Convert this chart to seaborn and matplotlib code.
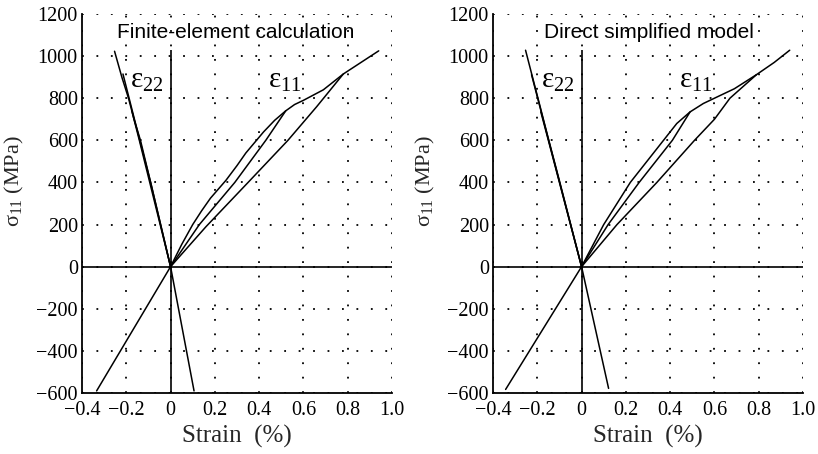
import matplotlib
matplotlib.use("Agg")
import matplotlib.pyplot as plt
import seaborn as sns

# ---------------- data ----------------
x_ticks = [-0.4, -0.2, 0.0, 0.2, 0.4, 0.6, 0.8, 1.0]
x_tick_labels = ["\u22120.4", "\u22120.2", "0", "0.2", "0.4", "0.6", "0.8", "1.0"]
y_ticks = [-600, -400, -200, 0, 200, 400, 600, 800, 1000, 1200]
y_tick_labels = ["\u2212600", "\u2212400", "\u2212200", "0", "200", "400", "600", "800", "1000", "1200"]

panel_titles = ["Finite-element calculation", "Direct simplified model"]

# Finite-element calculation (left)
fe_e11_load_strain = [0, 0.05, 0.10, 0.14, 0.18, 0.25, 0.30, 0.34, 0.38, 0.42, 0.47, 0.52, 0.56, 0.60, 0.69, 0.78, 0.86, 0.94]
fe_e11_load_stress = [0, 105, 200, 265, 325, 410, 480, 540, 590, 640, 695, 740, 770, 790, 840, 915, 970, 1025]
fe_e11_unload1_strain = [0.52, 0.43, 0.29, 0.13, 0]
fe_e11_unload1_stress = [740, 600, 400, 200, 0]
fe_e11_unload2_strain = [0.78, 0.66, 0.53, 0.35, 0.16, 0]
fe_e11_unload2_stress = [915, 760, 600, 400, 190, 0]
fe_e22_load_strain = [0, -0.045, -0.09, -0.136, -0.165, -0.19, -0.22, -0.253]
fe_e22_load_stress = [0, 200, 400, 600, 700, 800, 900, 1023]
fe_e22_unload1_strain = [-0.175, -0.141, -0.094, -0.047, 0]
fe_e22_unload1_stress = [740, 600, 400, 200, 0]
fe_e22_unload2_strain = [-0.215, -0.139, -0.09, 0]
fe_e22_unload2_stress = [915, 600, 400, 0]
fe_e11_comp_strain = [0, -0.334]
fe_e11_comp_stress = [0, -590]
fe_e22_comp_strain = [0, 0.106]
fe_e22_comp_stress = [0, -590]

# Direct simplified model (right)
sm_e11_load_strain = [0, 0.05, 0.10, 0.22, 0.295, 0.37, 0.43, 0.49, 0.55, 0.60, 0.69, 0.79, 0.87, 0.94]
sm_e11_load_stress = [0, 100, 200, 400, 500, 600, 680, 735, 775, 800, 845, 912, 970, 1028]
sm_e11_unload1_strain = [0.49, 0.41, 0.26, 0.12, 0]
sm_e11_unload1_stress = [735, 600, 400, 200, 0]
sm_e11_unload2_strain = [0.79, 0.67, 0.60, 0.51, 0.34, 0.16, 0]
sm_e11_unload2_stress = [912, 800, 700, 600, 400, 200, 0]
sm_e22_load_strain = [0, -0.049, -0.098, -0.148, -0.197, -0.253]
sm_e22_load_stress = [0, 200, 400, 600, 800, 1028]
sm_e22_unload1_strain = [-0.184, -0.15, -0.1, -0.05, 0]
sm_e22_unload1_stress = [735, 600, 400, 200, 0]
sm_e22_unload2_strain = [-0.226, 0]
sm_e22_unload2_stress = [912, 0]
sm_e11_comp_strain = [0, -0.343]
sm_e11_comp_stress = [0, -583]
sm_e22_comp_strain = [0, 0.122]
sm_e22_comp_stress = [0, -578]

fe_curves = [
    (fe_e11_load_strain, fe_e11_load_stress),
    (fe_e11_unload1_strain, fe_e11_unload1_stress),
    (fe_e11_unload2_strain, fe_e11_unload2_stress),
    (fe_e22_load_strain, fe_e22_load_stress),
    (fe_e22_unload1_strain, fe_e22_unload1_stress),
    (fe_e22_unload2_strain, fe_e22_unload2_stress),
    (fe_e11_comp_strain, fe_e11_comp_stress),
    (fe_e22_comp_strain, fe_e22_comp_stress),
]
sm_curves = [
    (sm_e11_load_strain, sm_e11_load_stress),
    (sm_e11_unload1_strain, sm_e11_unload1_stress),
    (sm_e11_unload2_strain, sm_e11_unload2_stress),
    (sm_e22_load_strain, sm_e22_load_stress),
    (sm_e22_unload1_strain, sm_e22_unload1_stress),
    (sm_e22_unload2_strain, sm_e22_unload2_stress),
    (sm_e11_comp_strain, sm_e11_comp_stress),
    (sm_e22_comp_strain, sm_e22_comp_stress),
]

# ---------------- style ----------------
sns.set_style("white")
SERIF = ["Liberation Serif", "DejaVu Serif"]
SANS = ["Liberation Sans", "DejaVu Sans"]
plt.rcParams["font.family"] = SERIF
plt.rcParams["mathtext.fontset"] = "custom"
plt.rcParams["mathtext.rm"] = "Liberation Serif"
plt.rcParams["mathtext.it"] = "Liberation Serif"

fig = plt.figure(figsize=(8.18, 4.54), dpi=100)
ax_l = fig.add_axes([82 / 818, 1 - 393 / 454, 310 / 818, 379 / 454])
ax_r = fig.add_axes([493 / 818, 1 - 393 / 454, 310 / 818, 379 / 454])

e22_pos = (-0.185, 880)
e11_pos = (0.44, 880)

for ax, curves, title, tx in [
    (ax_l, fe_curves, panel_titles[0], 0.296),
    (ax_r, sm_curves, panel_titles[1], 0.305),
]:
    ax.set_xlim(-0.4, 1.0)
    ax.set_ylim(-600, 1200)
    ax.grid(True, color="black", linestyle=(0, (1, 7)), linewidth=1.3)
    ax.set_axisbelow(True)
    for sp in ["top", "right"]:
        ax.spines[sp].set_visible(False)
    for sp in ["left", "bottom"]:
        ax.spines[sp].set_color("black")
        ax.spines[sp].set_linewidth(1.3)
    ax.axhline(0, color="black", lw=1.2, zorder=2)
    ax.vlines(0, -600, 1030, color="black", lw=1.2, zorder=2)

    for xs, ys in curves:
        sns.lineplot(x=xs, y=ys, ax=ax, color="black", lw=1.1,
                     sort=False, estimator=None, legend=False)

    ax.set_xticks(x_ticks)
    ax.set_xticklabels(x_tick_labels, fontfamily=SERIF, fontsize=14.5)
    ax.set_yticks(y_ticks)
    ax.set_yticklabels(y_tick_labels, fontfamily=SERIF, fontsize=14.5)
    ax.tick_params(axis="x", direction="in", length=4, width=1,
                   colors="black", pad=6)
    ax.tick_params(axis="y", direction="in", length=4, width=1,
                   colors="black", pad=3)
    ax.set_xlabel("Strain  (%)", fontsize=18, fontfamily=SERIF, labelpad=3)
    ax.set_ylabel("σ$_{11}$ (MPa)", fontsize=16, fontfamily=SERIF)
    ax.yaxis.set_label_coords(-0.18, 0.56)

    ax.text(tx, 1112, title, family=SANS,
            fontsize=15, ha="center", va="center", color="black")
    ax.text(e22_pos[0], e22_pos[1], "ε$_{22}$", family=SERIF,
            fontsize=21, ha="left", va="center", color="black")
    ax.text(e11_pos[0], e11_pos[1], "ε$_{11}$", family=SERIF,
            fontsize=21, ha="left", va="center", color="black")

fig.savefig("out.png", dpi=100)
